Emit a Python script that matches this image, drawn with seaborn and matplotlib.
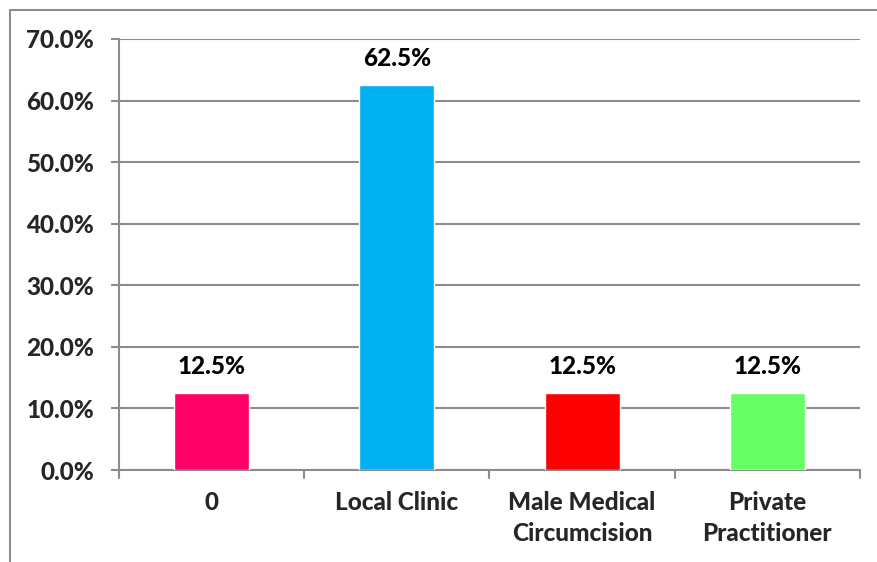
import matplotlib
matplotlib.use("Agg")
import matplotlib.pyplot as plt
import seaborn as sns
import pandas as pd
from matplotlib.lines import Line2D

categories = ["0", "Local Clinic", "Male Medical\nCircumcision", "Private\nPractitioner"]
shares = [12.5, 62.5, 12.5, 12.5]
bar_colors = ["#FF0066", "#00B0F0", "#FF0000", "#66FF66"]
y_ticks = [0, 10, 20, 30, 40, 50, 60, 70]

sns.set_theme(style="white")
plt.rcParams["font.family"] = ["Lato", "DejaVu Sans"]

FS = 17.5
FW = "black"

df = pd.DataFrame({"category": categories, "share": shares})

fig = plt.figure(figsize=(8.78, 5.62), dpi=100)
ax = fig.add_axes([119 / 878, 1 - 470 / 562, (860 - 119) / 878, (470 - 39) / 562])

sns.barplot(data=df, x="category", y="share", hue="category", palette=bar_colors,
            legend=False, width=0.405, saturation=1, ax=ax, zorder=3)

grid_c = "#8C8C8C"
ax.set_ylim(0, 70)
ax.set_xlim(-0.5, len(categories) - 0.5)
ax.set_yticks(y_ticks)
ax.set_yticklabels([f"{v:.1f}%" for v in y_ticks], fontsize=FS, fontweight=FW)
ax.yaxis.grid(True, color=grid_c, linewidth=1.5, zorder=0)
ax.set_axisbelow(True)

ax.set_xticks(range(len(categories)))
ax.set_xticklabels(categories, fontsize=FS, fontweight=FW, linespacing=1.45)
ax.tick_params(axis="x", length=0, pad=15)
ax.tick_params(axis="y", length=6, width=1.5, color=grid_c, pad=12, left=True)
for b in [i + 0.5 for i in range(-1, len(categories))]:
    ax.add_line(Line2D([b, b], [0, -0.018], transform=ax.get_xaxis_transform(),
                       color=grid_c, linewidth=1.5, clip_on=False))

for s in ["top", "right"]:
    ax.spines[s].set_visible(False)
ax.spines["left"].set_color(grid_c)
ax.spines["left"].set_linewidth(1.5)
ax.spines["bottom"].set_color(grid_c)
ax.spines["bottom"].set_linewidth(1.5)
ax.set_xlabel("")
ax.set_ylabel("")

for i, v in enumerate(shares):
    ax.text(i, v + 2.5, f"{v:.1f}%", ha="center", va="bottom",
            fontsize=FS, fontweight=FW, color="black")

# outer chart frame
fig.add_artist(Line2D([10 / 878, 10 / 878], [0, 1 - 10 / 562], transform=fig.transFigure,
                      color="#8C8C8C", linewidth=1.5))
fig.add_artist(Line2D([10 / 878, 1], [1 - 10 / 562, 1 - 10 / 562], transform=fig.transFigure,
                      color="#8C8C8C", linewidth=1.5))

fig.savefig("out.png", dpi=100)
